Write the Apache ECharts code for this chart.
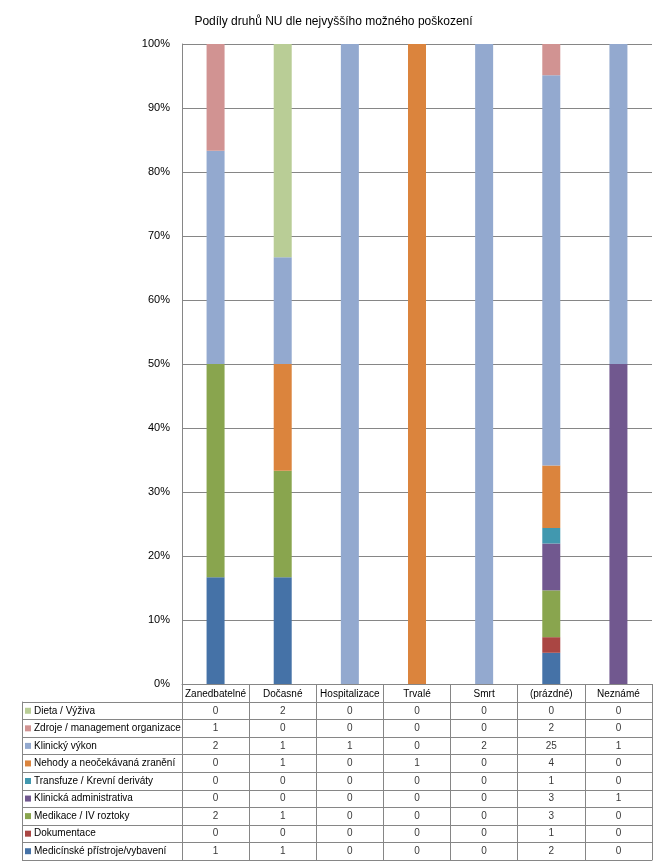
<!DOCTYPE html>
<html>
<head>
<meta charset="utf-8">
<script src="https://cdn.jsdelivr.net/npm/echarts@6/dist/echarts.min.js"></script>
<style>
html,body{margin:0;padding:0;background:#fff;}
#chart{width:667px;height:866px;}
</style>
</head>
<body>
<div id="chart"></div>
<script>
// ---- data ----
const categories = ['Zanedbatelné','Dočasné','Hospitalizace','Trvalé','Smrt','(prázdné)','Neznámé'];
const seriesNames = ['Dieta / Výživa','Zdroje / management organizace','Klinický výkon','Nehody a neočekávaná zranění','Transfuze / Krevní deriváty','Klinická administrativa','Medikace / IV roztoky','Dokumentace','Medicínské přístroje/vybavení'];
const dieta        = [0,2,0,0,0,0,0];
const zdroje       = [1,0,0,0,0,2,0];
const klinVykon    = [2,1,1,0,2,25,1];
const nehody       = [0,1,0,1,0,4,0];
const transfuze    = [0,0,0,0,0,1,0];
const klinAdmin    = [0,0,0,0,0,3,1];
const medikace     = [2,1,0,0,0,3,0];
const dokumentace  = [0,0,0,0,0,1,0];
const pristroje    = [1,1,0,0,0,2,0];
const yTickValues  = [0,10,20,30,40,50,60,70,80,90,100];
const titleText = 'Podíly druhů NU dle nejvyššího možného poškození';

// ---- styling ----
const rows = [dieta, zdroje, klinVykon, nehody, transfuze, klinAdmin, medikace, dokumentace, pristroje];
const colors = ['#B9CD96','#D19392','#93A9CF','#DB843D','#4198AF','#71588F','#89A54E','#AA4643','#4572A7'];
const FONT = 'Liberation Sans, Arial, sans-serif';
const LINE = '#868686';

const totals = categories.map((_, c) => rows.reduce((s, r) => s + r[c], 0));

const barSeries = [];
for (let i = rows.length - 1; i >= 0; i--) {
  barSeries.push({
    name: seriesNames[i],
    type: 'bar',
    stack: 'all',
    xAxisIndex: 0, yAxisIndex: 0,
    barWidth: 18,
    itemStyle: { color: colors[i] },
    data: rows[i].map((v, c) => totals[c] ? v / totals[c] * 100 : 0)
  });
}

const cellData = [];
rows.forEach((r, ri) => r.forEach((v, c) => cellData.push([categories[c], seriesNames[ri], v])));

const rich = {};
colors.forEach((col, i) => { rich['s' + i] = { width: 6, height: 6, backgroundColor: col }; });
rich.t = { fontSize: 10, color: '#000', fontFamily: FONT, padding: [0, 0, 0, 3] };

const chart = echarts.init(document.getElementById('chart'), null, { renderer: 'canvas' });
chart.setOption({
  animation: false,
  backgroundColor: '#fff',
  textStyle: { fontFamily: FONT },
  title: {
    text: titleText, left: 'center', top: 11,
    textStyle: { fontSize: 12, fontWeight: 'normal', color: '#000', fontFamily: FONT }
  },
  grid: [
    { left: 182, right: 15, top: 44, height: 640 },
    { left: 182, right: 15, top: 702, height: 158 }
  ],
  xAxis: [
    {
      type: 'category', gridIndex: 0, data: categories,
      axisLine: { lineStyle: { color: LINE } },
      axisTick: { show: true, length: 18, interval: 0, lineStyle: { color: LINE } },
      axisLabel: { interval: 0, fontSize: 10, color: '#000', margin: 5, fontFamily: FONT },
      splitLine: { show: false }
    },
    {
      type: 'category', gridIndex: 1, data: categories, position: 'bottom',
      axisLine: { show: true, lineStyle: { color: LINE } },
      axisTick: { show: false },
      axisLabel: { show: false },
      splitLine: { show: true, interval: 0, lineStyle: { color: LINE } }
    }
  ],
  yAxis: [
    {
      type: 'value', gridIndex: 0, min: yTickValues[0], max: yTickValues[yTickValues.length - 1], interval: 10,
      axisLine: { show: true, lineStyle: { color: LINE } },
      axisTick: { show: false },
      axisLabel: { formatter: '{value}%', fontSize: 11, color: '#000', margin: 12, fontFamily: FONT },
      splitLine: { show: true, lineStyle: { color: LINE } }
    },
    {
      type: 'category', gridIndex: 1, data: seriesNames, inverse: true,
      axisLine: { show: true, lineStyle: { color: LINE } },
      axisTick: { show: true, length: 160, interval: 0, lineStyle: { color: LINE } },
      axisLabel: {
        interval: 0, align: 'left', margin: 157,
        formatter: (v, i) => '{s' + i + '|}{t|' + v + '}',
        rich: rich
      },
      splitLine: { show: true, interval: 0, lineStyle: { color: LINE } }
    },
    {
      type: 'category', gridIndex: 1, data: seriesNames, inverse: true, position: 'left', offset: 160,
      axisLine: { show: true, lineStyle: { color: LINE } },
      axisTick: { show: false }, axisLabel: { show: false }, splitLine: { show: false }
    }
  ],
  series: barSeries.concat([{
    type: 'scatter', xAxisIndex: 1, yAxisIndex: 1,
    symbolSize: 1, itemStyle: { color: 'rgba(0,0,0,0)' },
    label: { show: true, position: 'inside', formatter: p => String(p.value[2]), fontSize: 10, color: '#000', fontFamily: FONT },
    data: cellData
  }])
});
</script>
</body>
</html>
